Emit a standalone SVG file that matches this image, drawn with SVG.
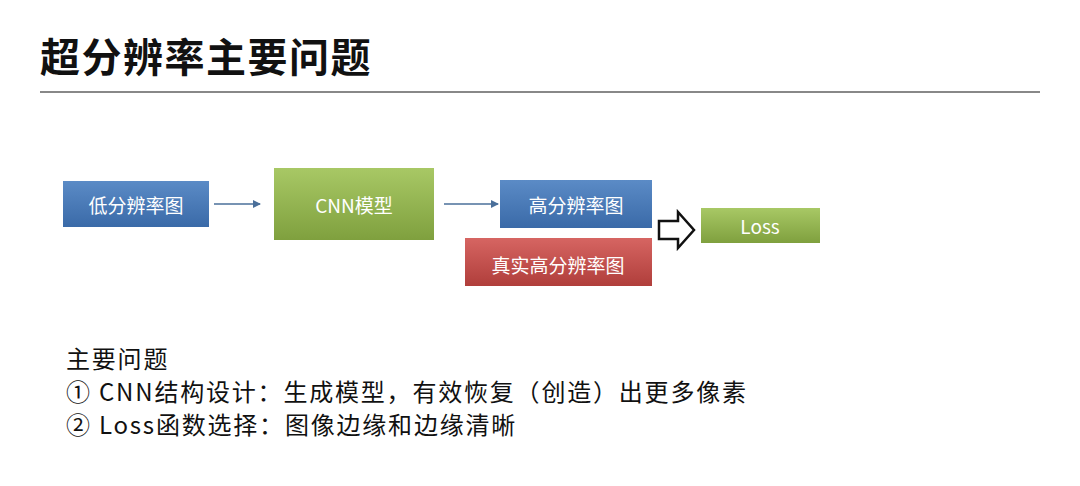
<svg xmlns="http://www.w3.org/2000/svg" width="1080" height="486" viewBox="0 0 1080 486">
<style>
text{font-family:"Noto Sans CJK SC","Liberation Sans",sans-serif}
.lbl{fill:#fff;font-size:19px;text-anchor:middle;dominant-baseline:central}
.body{fill:#111;font-size:24px;letter-spacing:1.8px}
</style>
<defs>
<linearGradient id="gb" x1="0" y1="0" x2="0" y2="1"><stop offset="0" stop-color="#5b8bc6"/><stop offset="1" stop-color="#3a6aa8"/></linearGradient>
<linearGradient id="gg" x1="0" y1="0" x2="0" y2="1"><stop offset="0" stop-color="#a8c865"/><stop offset="1" stop-color="#7fa03e"/></linearGradient>
<linearGradient id="gr" x1="0" y1="0" x2="0" y2="1"><stop offset="0" stop-color="#d66562"/><stop offset="1" stop-color="#b03e3b"/></linearGradient>
<marker id="ah" markerWidth="8" markerHeight="8" refX="7" refY="4" orient="auto" markerUnits="userSpaceOnUse"><path d="M0,0 L8,4 L0,8 z" fill="#4a6f9a"/></marker>
</defs>
<rect width="1080" height="486" fill="#fff"/>
<text x="40" y="72" style="font-size:40px;font-weight:bold;fill:#111;letter-spacing:1.5px">超分辨率主要问题</text>
<line x1="40" y1="92" x2="1040" y2="92" stroke="#888" stroke-width="2"/>
<g id="n1"><rect x="63" y="181" width="146" height="46" fill="url(#gb)"/><text class="lbl" x="136" y="204">低分辨率图</text></g>
<g id="n2"><rect x="274" y="168" width="160" height="72" fill="url(#gg)"/><text class="lbl" x="354" y="204">CNN模型</text></g>
<g id="n3"><rect x="500" y="180" width="152" height="48" fill="url(#gb)"/><text class="lbl" x="576" y="204">高分辨率图</text></g>
<g id="n4"><rect x="465" y="238" width="187" height="48" fill="url(#gr)"/><text class="lbl" x="558" y="264">真实高分辨率图</text></g>
<g id="n5"><rect x="701" y="208" width="119" height="35" fill="url(#gg)"/><text class="lbl" x="760" y="225">Loss</text></g>
<g id="connectors">
<line x1="214" y1="204" x2="260" y2="204" stroke="#4a6f9a" stroke-width="1.5" marker-end="url(#ah)"/>
<line x1="444" y1="204" x2="498" y2="204" stroke="#4a6f9a" stroke-width="1.5" marker-end="url(#ah)"/>
<path d="M659,221 L678,221 L678,212 L694,230 L678,248 L678,239 L659,239 Z" fill="#fff" stroke="#111" stroke-width="2.5" stroke-linejoin="miter"/>
</g>
<text class="body" x="66" y="368">主要问题</text>
<text class="body" x="66" y="401">①  CNN结构设计：生成模型，有效恢复（创造）出更多像素</text>
<text class="body" x="66" y="434">②  Loss函数选择：图像边缘和边缘清晰</text>
</svg>
